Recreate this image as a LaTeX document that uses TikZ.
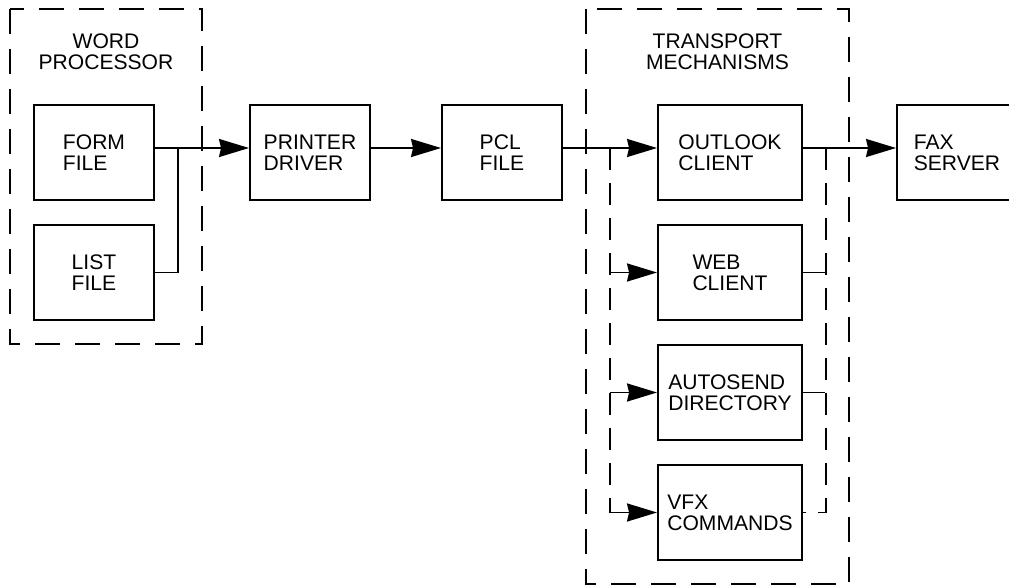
\documentclass[tikz,border=0pt]{standalone}
\usepackage{fontspec}
\setmainfont{Liberation Sans}
\usetikzlibrary{arrows.meta,positioning}

\tikzset{
    block/.style={draw, line width=1.1pt, minimum width=2.40cm, minimum height=1.90cm,
                  inner sep=0pt, align=left, font=\fontsize{12}{12}\selectfont},
    wideblock/.style={block, minimum width=2.88cm},
    grouptitle/.style={inner sep=0pt, align=center, font=\fontsize{12}{12}\selectfont},
    groupbox/.style={line width=1.1pt, dash pattern=on 0.50cm off 0.30cm},
    wire/.style={line width=1.1pt},
    dashwire/.style={line width=1.1pt, dash pattern=on 0.45cm off 0.25cm},
    link/.style={wire, -{Stealth[length=0.60cm, width=0.36cm, inset=0.04cm]}}
}

\begin{document}
\begin{tikzpicture}[x=0.02cm, y=-0.02cm]
            \useasboundingbox (0,0) rectangle (1009,585);
            % Word processor
            \draw[groupbox] ( 10.00,  9.00) rectangle (202.00, 344.00);
            \node[grouptitle] (wordproc)  at (106.00,  52.00) {WORD\\PROCESSOR};
            \node[block]      (formfile)  at ( 94.00, 152.50) {FORM\\FILE};
            \node[block]      (listfile)  at ( 94.00, 272.50) {LIST\\FILE};
            \coordinate       (wpjoin)    at (178.00, 148.00);
            % Main chain
            \node[block]      (driver)    at (310.00, 152.50) {PRINTER\\DRIVER};
            \node[block]      (pclfile)   at (502.00, 152.50) {PCL\\FILE};
            % Transport mechanisms
            \draw[groupbox] (586.00,  9.00) rectangle (849.00, 584.00);
            \node[grouptitle] (transport) at (717.50,  52.00) {TRANSPORT\\MECHANISMS};
            \node[wideblock]  (outlook)   at (730.00, 152.50) {OUTLOOK\\CLIENT};
            \node[wideblock]  (webclient) at (730.00, 272.50) {WEB\\CLIENT};
            \node[wideblock]  (autosend)  at (730.00, 392.50) {AUTOSEND\\DIRECTORY};
            \node[wideblock]  (vfxcmd)    at (730.00, 512.50) {VFX\\COMMANDS};
            \coordinate       (fanout)    at (610.00, 148.00);
            \coordinate       (fanin)     at (826.00, 148.00);
            % Fax server
            \node[block]      (faxserver) at (957.00, 152.50) {FAX\\SERVER};
            % Connectors
            \draw[wire] (listfile.east) -| (wpjoin);
            \draw[link] ([yshift=0.09cm]formfile.east) -- ([yshift=0.09cm]driver.west);
            \draw[link] ([yshift=0.09cm]driver.east)   -- ([yshift=0.09cm]pclfile.west);
            \draw[link] ([yshift=0.09cm]pclfile.east)  -- ([yshift=0.09cm]outlook.west);
            \draw[link] ([yshift=0.09cm]outlook.east)  -- ([yshift=0.09cm]faxserver.west);
            % Alternative paths
            \draw[dashwire] (fanout) -- (fanout |- vfxcmd.west);
            \draw[link] (fanout |- webclient.west) -- (webclient.west);
            \draw[link] (fanout |- autosend.west)  -- (autosend.west);
            \draw[link] (fanout |- vfxcmd.west)    -- (vfxcmd.west);
            \draw[dashwire] (fanin) |- (vfxcmd.east);
            \draw[dashwire] (webclient.east) -- (fanin |- webclient.east);
            \draw[dashwire] (autosend.east)  -- (fanin |- autosend.east);
\end{tikzpicture}
\end{document}
